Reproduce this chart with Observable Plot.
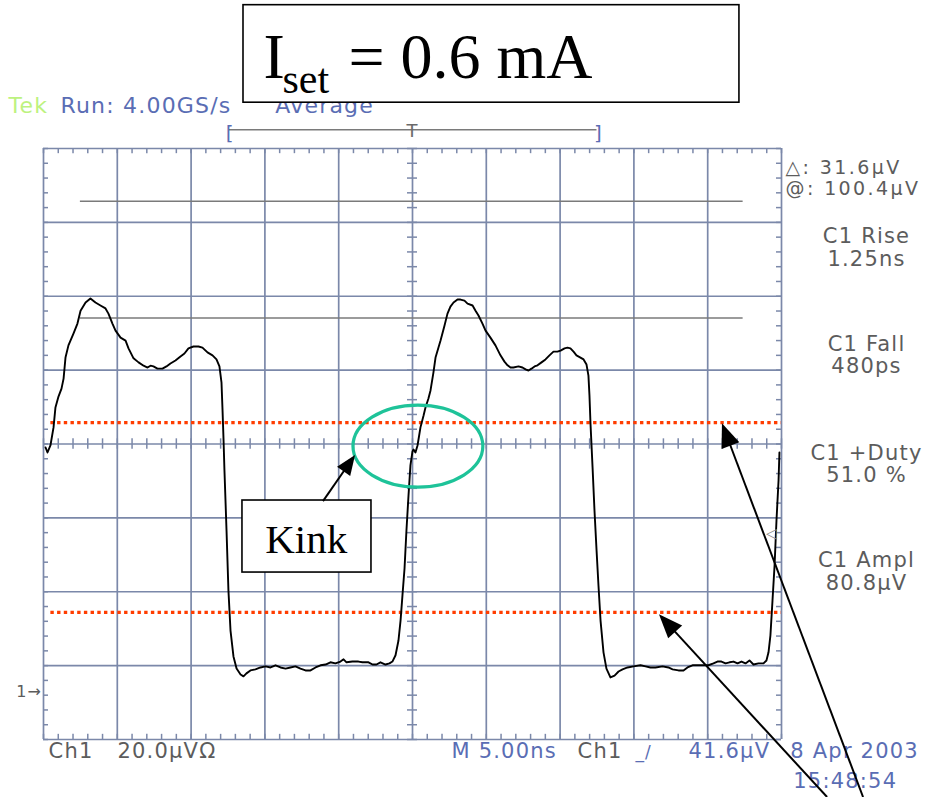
<!DOCTYPE html>
<html><head><meta charset="utf-8">
<script src="https://cdn.jsdelivr.net/npm/d3@7"></script>
<script src="https://cdn.jsdelivr.net/npm/@observablehq/plot@0.6"></script>
<style>
html,body{margin:0;padding:0;background:#fff;overflow:hidden}
#chart svg{display:block}
</style></head><body><div id="chart"></div>
<script>
// ---- waveform (time in ns, voltage in µV relative to screen centre) ----
const timeNs = [0.14,0.27,0.47,0.68,0.81,1.02,1.22,1.36,1.49,1.69,2.03,2.30,2.51,2.85,3.18,3.52,3.86,4.20,4.40,4.67,4.88,5.22,5.56,5.76,6.10,6.44,6.78,7.05,7.25,7.45,7.72,8.06,8.33,8.60,8.94,9.28,9.55,9.82,10.16,10.50,10.77,11.11,11.45,11.72,11.92,12.06,12.13,12.20,12.26,12.40,12.53,12.67,12.87,13.08,13.35,13.55,13.75,14.02,14.36,14.70,15.04,15.38,15.72,16.06,16.40,16.73,17.07,17.41,17.75,18.09,18.43,18.77,19.11,19.44,19.78,20.12,20.33,20.53,20.93,21.34,21.61,22.02,22.29,22.56,22.83,23.17,23.44,23.64,23.85,24.05,24.19,24.32,24.46,24.59,24.73,24.86,25.00,25.07,25.20,25.34,25.54,25.75,25.88,26.08,26.22,26.42,26.56,26.76,26.90,27.17,27.37,27.57,27.78,28.05,28.25,28.52,28.73,29.07,29.27,29.47,29.74,29.95,30.28,30.62,30.96,31.23,31.44,31.64,31.84,32.18,32.45,32.66,32.86,33.06,33.27,33.47,33.74,34.01,34.28,34.55,34.82,35.03,35.30,35.50,35.70,35.91,36.11,36.38,36.59,36.79,36.92,36.99,37.06,37.20,37.33,37.47,37.60,37.74,37.94,38.14,38.41,38.69,38.96,39.23,39.57,39.97,40.45,40.79,41.12,41.46,41.94,42.34,42.62,43.02,43.36,43.63,43.97,44.31,44.65,45.05,45.39,45.66,45.93,46.21,46.48,46.75,47.02,47.29,47.56,47.83,48.10,48.44,48.78,48.98,49.12,49.25,49.39,49.53,49.66,49.80,49.86];
const voltUv = [-0.95,-2.3,-0.4,4.5,9.9,12.9,15.0,17.7,23.4,26.7,29.9,32.6,36.1,38.3,39.4,38.3,37.5,36.7,35.3,32.6,30.7,28.8,28.0,25.9,23.2,22.1,21.2,20.7,21.2,21.0,20.4,20.4,21.0,21.8,22.6,23.7,24.5,25.9,26.4,26.4,26.1,24.8,24.0,22.9,21.0,16.6,9.1,0.9,-7.2,-23.4,-39.7,-50.5,-57.5,-60.8,-62.4,-62.9,-62.1,-61.3,-61.0,-60.5,-60.2,-60.5,-59.9,-60.5,-60.8,-60.5,-60.2,-60.8,-61.3,-61.3,-60.5,-59.9,-59.7,-59.1,-59.4,-58.9,-58.3,-59.1,-58.9,-58.9,-59.1,-59.1,-59.7,-59.7,-59.1,-59.7,-59.4,-58.9,-57.2,-53.2,-47.8,-41.0,-33.7,-23.4,-13.9,-5.8,-2.0,-1.5,-2.3,-0.4,4.5,7.7,9.9,12.3,14.5,19.4,23.4,26.1,28.0,32.1,35.3,37.2,38.3,39.1,39.1,38.8,38.0,37.5,36.1,34.8,32.6,30.7,28.8,26.7,24.0,22.3,21.3,20.7,20.7,21.0,20.7,20.2,19.9,20.4,21.0,21.3,22.1,22.9,24.0,25.0,25.0,25.3,25.9,26.1,25.9,25.0,24.0,23.4,22.9,21.5,18.5,13.1,5.5,-6.4,-18.0,-28.8,-38.3,-47.8,-56.4,-60.8,-63.2,-62.7,-61.6,-61.0,-60.5,-60.2,-59.9,-60.2,-60.5,-60.5,-60.2,-60.5,-61.0,-61.3,-61.3,-60.5,-59.9,-59.9,-59.9,-59.9,-59.4,-58.9,-58.9,-59.4,-59.1,-58.9,-59.4,-58.9,-59.4,-58.6,-59.7,-59.4,-59.4,-58.6,-56.4,-51.8,-42.4,-32.9,-20.7,-9.9,-2.3];

// graticule: 10 x 5 ns, 8 x 20 µV
const gridNs = [0,5,10,15,20,25,30,35,40,45,50];
const gridUv = [-80,-60,-40,-20,0,20,40,60,80];
const minorNs = d3.range(0, 50.001, 1);
const minorUv = d3.range(-80, 80.001, 4);

// cursors (Δ 31.6 µV) and the two dotted reference levels
const cursorUv = [65.7, 34.1];
const levelUv = [5.8, -45.6];

// scope read-outs
const rightTop = ["△: 31.6µV", "@: 100.4µV"];
const measNames = ["C1 Rise", "C1 Fall", "C1 +Duty", "C1 Ampl"];
const measValues = ["1.25ns", "480ps", "51.0 %", "80.8µV"];
const measUv = [54.3, 25.3, -4.2, -33.4];

const trace = timeNs.map((t, i) => ({t, v: voltUv[i]}));

const BLUE = "#5a6db4", GRAY = "#5c5c5c", GRID = "#7b88a9";
const SANS = "DejaVu Sans", SERIF = "Liberation Serif";

function txt(s, t, v, o = {}) {
  return Plot.text([s], {x: () => t, y: () => v, text: d => d, lineAnchor: "bottom",
    textAnchor: "start", fontFamily: SANS, fontSize: 21, fill: GRAY, ...o});
}

// filled-head arrows (data coordinates)
const arrows = [
  {t1: 18.97, v1: -15.6, t2: 21.14, v2: -3.1, head: 20, w: 16},
  {t1: 53.12, v1: -95.7, t2: 41.73, v2: -46.2, head: 24, w: 19},
  {t1: 55.56, v1: -95.7, t2: 46.0, v2: 5.5, head: 24, w: 19}
];
function arrowMark(index, scales) {
  const g = d3.create("svg:g");
  for (const a of arrows) {
    const x1 = scales.x(a.t1), y1 = scales.y(a.v1), x2 = scales.x(a.t2), y2 = scales.y(a.v2);
    const ang = Math.atan2(y2 - y1, x2 - x1), c = Math.cos(ang), s = Math.sin(ang), W = a.w / 2;
    const bx = x2 - a.head * c, by = y2 - a.head * s;
    g.append("line").attr("x1", x1).attr("y1", y1).attr("x2", bx + 2 * c).attr("y2", by + 2 * s)
      .attr("stroke", "black").attr("stroke-width", 2);
    g.append("path").attr("d", `M${x2},${y2}L${bx - W * s},${by + W * c}L${bx + W * s},${by - W * c}Z`)
      .attr("fill", "black");
  }
  return g.node();
}
// green ellipse round the kink
const kinkEllipse = {t: 25.4, v: -0.7, rt: 4.4, rv: 11.1};
function ellipseMark(index, scales) {
  const e = kinkEllipse;
  const cx = scales.x(e.t), cy = scales.y(e.v);
  const rx = Math.abs(scales.x(e.t + e.rt) - cx), ry = Math.abs(scales.y(e.v + e.rv) - cy);
  return d3.create("svg:ellipse").attr("cx", cx).attr("cy", cy).attr("rx", rx).attr("ry", ry)
    .attr("fill", "none").attr("stroke", "#1ec399").attr("stroke-width", 3.2).node();
}

const chart = Plot.plot({
  width: 925, height: 797,
  marginLeft: 43, marginRight: 144, marginTop: 148, marginBottom: 58,
  x: {domain: [0, 50], axis: null},
  y: {domain: [-80, 80], axis: null},
  style: {background: "white", fontFamily: SANS, overflow: "visible"},
  marks: [
    Plot.ruleX(gridNs, {stroke: GRID, strokeWidth: 1.7}),
    Plot.ruleY(gridUv, {stroke: GRID, strokeWidth: 1.7}),
    Plot.ruleX(minorNs, {y1: -1.4, y2: 1.4, stroke: GRID, strokeWidth: 1.5}),
    Plot.ruleX(minorNs, {y1: 80, y2: 78.6, stroke: GRID, strokeWidth: 1.5}),
    Plot.ruleX(minorNs, {y1: -80, y2: -78.6, stroke: GRID, strokeWidth: 1.5}),
    Plot.ruleY(minorUv, {x1: 24.66, x2: 25.34, stroke: GRID, strokeWidth: 1.5}),
    Plot.ruleY(minorUv, {x1: 0, x2: 0.34, stroke: GRID, strokeWidth: 1.5}),
    Plot.ruleY(minorUv, {x1: 49.66, x2: 50, stroke: GRID, strokeWidth: 1.5}),
    Plot.ruleY(cursorUv, {x1: 2.5, x2: 47.4, stroke: "#7a7a7a", strokeWidth: 1.5}),
    Plot.ruleY(levelUv, {x1: 0.5, x2: 50, stroke: "#ff3d00", strokeWidth: 3.3, strokeDasharray: "3.4,3.3"}),
    Plot.line(trace, {x: "t", y: "v", stroke: "black", strokeWidth: 1.9}),
    // trigger-position bar
    Plot.ruleY([85.1], {x1: 12.6, x2: 37.5, stroke: "#7a7a7a", strokeWidth: 1.5}),
    txt("[", 12.35, 82.2, {fill: BLUE, fontSize: 20}),
    txt("]", 37.3, 82.2, {fill: BLUE, fontSize: 20}),
    txt("T", 25, 83.0, {fill: "#6a6a6a", fontSize: 18, textAnchor: "middle"}),
    // header
    txt("Tek", -2.37, 89.5, {fill: "#bdf27f", fontSize: 22}),
    txt("Run: 4.00GS/s", 1.15, 89.5, {fill: BLUE, fontSize: 22}),
    txt("Average", 15.7, 89.5, {fill: BLUE, fontSize: 22}),
    // right-hand read-outs
    txt(rightTop[0], 50.27, 73.0, {fontSize: 19}),
    txt(rightTop[1], 50.27, 67.5, {fontSize: 19}),
    Plot.text(measNames, {x: () => 55.76, y: (d, i) => measUv[i], text: d => d, lineAnchor: "bottom", fontFamily: SANS, fontSize: 21, fill: GRAY}),
    Plot.text(measValues, {x: () => 55.76, y: (d, i) => measUv[i] - 6, text: d => d, lineAnchor: "bottom", fontFamily: SANS, fontSize: 21, fill: GRAY}),
    txt("◁", 48.95, -24.2, {fontSize: 14, fill: "#8a8a8a", lineAnchor: "middle"}),
    // footer
    txt("Ch1", 0.34, -85.1),
    txt("20.0µVΩ", 5.01, -85.1),
    txt("M 5.00ns", 27.64, -85.1, {fill: BLUE}),
    txt("Ch1", 36.18, -85.1),
    txt("_/", 40.1, -85.1, {fill: BLUE, fontSize: 17}),
    txt("41.6µV", 43.7, -85.1, {fill: BLUE}),
    txt("8 Apr 2003", 50.6, -85.1, {fill: BLUE}),
    txt("15:48:54", 50.8, -93.0, {fill: BLUE}),
    txt("1→", -1.85, -68.6, {fontSize: 16}),
    // annotations
    Plot.rect([0], {x1: 13.55, x2: 47.15, y1: 92.4, y2: 118.8, fill: "white", stroke: "black", strokeWidth: 1.6}),
    txt("I", 14.9, 99.2, {fontFamily: SERIF, fontSize: 64, fill: "black"}),
    txt("set", 16.19, 94.9, {fontFamily: SERIF, fontSize: 42, fill: "black"}),
    txt("= 0.6 mA", 20.66, 99.2, {fontFamily: SERIF, fontSize: 64, fill: "black"}),
    Plot.rect([0], {x1: 13.48, x2: 22.22, y1: -34.8, y2: -15.3, fill: "white", stroke: "black", strokeWidth: 1.6}),
    txt("Kink", 17.8, -29.6, {fontFamily: SERIF, fontSize: 41, fill: "black", textAnchor: "middle"}),
    ellipseMark,
    arrowMark
  ]
});
// scope read-out font is wider than DejaVu: add tracking to the sans-serif labels
chart.querySelectorAll('g[font-family="DejaVu Sans"]').forEach(g => g.setAttribute("letter-spacing", "1.2"));
chart.querySelectorAll("text").forEach(t => {
  if (/^[△@]/.test(t.textContent)) t.setAttribute("letter-spacing", "2.4");
});
document.getElementById("chart").append(chart);
</script></body></html>
